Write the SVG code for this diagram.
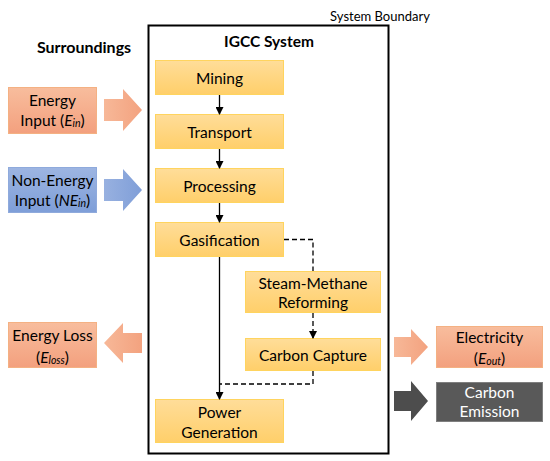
<svg xmlns="http://www.w3.org/2000/svg" width="550" height="461" viewBox="0 0 550 461">
<defs>
<linearGradient id="gy" x1="0" y1="0" x2="0" y2="1"><stop offset="0" stop-color="#FFDD99"/><stop offset="1" stop-color="#FFCF6A"/></linearGradient>
<linearGradient id="gs" x1="0" y1="0" x2="0" y2="1"><stop offset="0" stop-color="#F8BD9D"/><stop offset="1" stop-color="#F3A07E"/></linearGradient>
<linearGradient id="gb" x1="0" y1="0" x2="0" y2="1"><stop offset="0" stop-color="#9DB5E2"/><stop offset="1" stop-color="#7E9ED8"/></linearGradient>
<linearGradient id="gsa" x1="0" y1="0" x2="1" y2="0"><stop offset="0" stop-color="#F7B898"/><stop offset="1" stop-color="#F3A27F"/></linearGradient>
<linearGradient id="gba" x1="0" y1="0" x2="1" y2="0"><stop offset="0" stop-color="#98B1E0"/><stop offset="1" stop-color="#7F9ED8"/></linearGradient>
<marker id="ah" markerWidth="8" markerHeight="8" refX="7" refY="4" orient="auto" markerUnits="userSpaceOnUse"><path d="M0,0 L8,4 L0,8 Z" fill="#000"/></marker>
<style>
.t{font-family:"Lato","Open Sans","Liberation Sans",sans-serif;font-size:15.5px;fill:#000;text-anchor:middle;dominant-baseline:central}
.b{font-weight:bold}
.y{fill:url(#gy);stroke:#FFD45E;stroke-width:1}
.s{fill:url(#gs);stroke:#F4B183;stroke-width:1}
.bl{fill:url(#gb);stroke:#8FAADC;stroke-width:1}
.d{fill:#595959;stroke:#7F7F7F;stroke-width:1}
.c{fill:none;stroke:#000;stroke-width:1.3}
.dash{stroke-dasharray:5,3}
.w{fill:#fff}
.sub{font-size:10.5px}
</style>
</defs>
<rect width="550" height="461" fill="#fff"/>

<g id="boundary">
<rect x="148.5" y="25.5" width="240" height="428" fill="none" stroke="#000" stroke-width="2"/>
<text class="t" x="380" y="16" style="font-size:13px">System Boundary</text>
<text class="t b" x="269" y="41">IGCC System</text>
</g>
<g id="surroundings"><text class="t b" x="84" y="46" style="font-size:16px">Surroundings</text></g>

<g id="mining"><rect class="y" x="155.5" y="60.5" width="128" height="34"/><text class="t" x="219.5" y="78">Mining</text></g>
<g id="transport"><rect class="y" x="155.5" y="114.5" width="128" height="34"/><text class="t" x="219.5" y="132">Transport</text></g>
<g id="processing"><rect class="y" x="155.5" y="168.5" width="128" height="34"/><text class="t" x="219.5" y="185.5">Processing</text></g>
<g id="gasification"><rect class="y" x="155.5" y="222.5" width="128" height="34"/><text class="t" x="219.5" y="239.5">Gasification</text></g>
<g id="smr"><rect class="y" x="245.5" y="271.5" width="135" height="41"/><text class="t" x="313" y="283">Steam-Methane</text><text class="t" x="313" y="302">Reforming</text></g>
<g id="capture"><rect class="y" x="245.5" y="338.5" width="135" height="32"/><text class="t" x="313" y="354.5">Carbon Capture</text></g>
<g id="power"><rect class="y" x="155.5" y="399.5" width="128" height="43"/><text class="t" x="219.5" y="412">Power</text><text class="t" x="219.5" y="432">Generation</text></g>

<g id="energy-input"><rect class="s" x="8.5" y="87.5" width="88" height="46"/><text class="t" x="52.5" y="100">Energy</text><text class="t" x="52.5" y="120">Input (<tspan font-style="italic">E<tspan class="sub" dy="3">in</tspan></tspan><tspan dy="-3">)</tspan></text></g>
<g id="non-energy-input"><rect class="bl" x="8.5" y="167.5" width="88" height="45"/><text class="t" x="52.5" y="180">Non-Energy</text><text class="t" x="52.5" y="200">Input (<tspan font-style="italic">NE<tspan class="sub" dy="3">in</tspan></tspan><tspan dy="-3">)</tspan></text></g>
<g id="energy-loss"><rect class="s" x="8.5" y="322.5" width="88" height="45"/><text class="t" x="52.5" y="335">Energy Loss</text><text class="t" x="52.5" y="357">(<tspan font-style="italic">E<tspan class="sub" dy="3">loss</tspan></tspan><tspan dy="-3">)</tspan></text></g>
<g id="electricity"><rect class="s" x="436.5" y="326.5" width="106" height="41"/><text class="t" x="489.5" y="337">Electricity</text><text class="t" x="489.5" y="358">(<tspan font-style="italic">E<tspan class="sub" dy="3">out</tspan></tspan><tspan dy="-3">)</tspan></text></g>
<g id="carbon-emission"><rect class="d" x="436.5" y="382.5" width="106" height="39"/><text class="t w" x="489.5" y="392">Carbon</text><text class="t w" x="489.5" y="411">Emission</text></g>

<g id="block-arrows">
<path d="M104,99 H123 V89 L142,110 L123,131 V121 H104 Z" fill="url(#gsa)"/>
<path d="M104,179 H123 V169 L142,190 L123,211 V201 H104 Z" fill="url(#gba)"/>
<path d="M142,333 H123 V323 L104,343 L123,363 V353 H142 Z" fill="url(#gsa)"/>
<path d="M394,337 H411 V329 L428,347 L411,365 V357 H394 Z" fill="url(#gsa)"/>
<path d="M394,391 H411 V381 L428,401 L411,421 V411 H394 Z" fill="#4D4D4D"/>
</g>

<g id="connectors">
<line class="c" x1="219.5" y1="95" x2="219.5" y2="114" marker-end="url(#ah)"/>
<line class="c" x1="219.5" y1="149" x2="219.5" y2="168" marker-end="url(#ah)"/>
<line class="c" x1="219.5" y1="203" x2="219.5" y2="222" marker-end="url(#ah)"/>
<line class="c" x1="219.5" y1="257" x2="219.5" y2="399" marker-end="url(#ah)"/>
<path class="c dash" d="M284,239.5 H313 V271"/>
<line class="c dash" x1="313" y1="313" x2="313" y2="338" marker-end="url(#ah)"/>
<path class="c dash" d="M313,371 V384 H219.5"/>
</g>
</svg>
